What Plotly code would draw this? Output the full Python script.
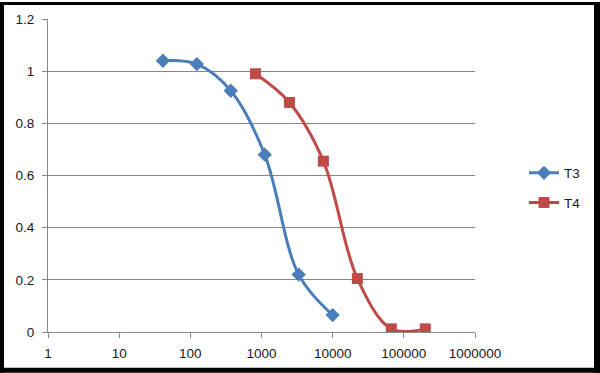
import plotly.graph_objects as go

# Data
t3_x = [41.15, 123.5, 370.4, 1111, 3333, 10000]
t3_y = [1.04, 1.027, 0.925, 0.68, 0.22, 0.065]
t4_x = [823, 2469, 7407, 22222, 66667, 200000]
t4_y = [0.99, 0.88, 0.655, 0.205, 0.012, 0.012]
x_ticks = [1, 10, 100, 1000, 10000, 100000, 1000000]
x_tick_labels = ["1", "10", "100", "1000", "10000", "100000", "1000000"]
y_ticks = [0, 0.2, 0.4, 0.6, 0.8, 1, 1.2]
y_tick_labels = ["0", "0.2", "0.4", "0.6", "0.8", "1", "1.2"]

BLUE = "#4A7EBB"
RED = "#BE4B48"
GRID = "#878787"
FONT = "Liberation Sans"

W, H = 600, 373
L, R, T, B = 48, 125, 17, 41
PW, PH = W - L - R, H - T - B

fig = go.Figure()
fig.add_trace(go.Scatter(
    x=t3_x, y=t3_y, name="T3", mode="lines+markers",
    line=dict(color=BLUE, width=3, shape="spline", smoothing=1.0),
    marker=dict(symbol="diamond", size=11, color=BLUE),
    legend="legend",
))
fig.add_trace(go.Scatter(
    x=t4_x, y=t4_y, name="T4", mode="lines+markers",
    line=dict(color=RED, width=3, shape="spline", smoothing=1.0),
    marker=dict(symbol="square", size=11, color=RED),
    legend="legend2",
))

def px2x(p):
    return (p - L) / PW

def py2y(p):
    return (H - B - p) / PH

shapes = []
for (x0, x1, y0, y1) in [(0, 4, 0, H), (594, W, 0, H), (0, W, 0, 3), (0, W, 368, H)]:
    shapes.append(dict(type="rect", xref="paper", yref="paper",
                       x0=px2x(x0), x1=px2x(x1), y0=py2y(y1), y1=py2y(y0),
                       fillcolor="black", line=dict(width=0), layer="above"))

fig.update_layout(
    width=W, height=H,
    margin=dict(l=L, r=R, t=T, b=B),
    paper_bgcolor="white", plot_bgcolor="white",
    font=dict(family=FONT, size=13.5, color="#1a1a1a"),
    showlegend=True,
    legend=dict(x=px2x(524), y=py2y(172), xanchor="left", yanchor="middle",
                bgcolor="rgba(0,0,0,0)", font=dict(size=13.5)),
    legend2=dict(x=px2x(524), y=py2y(202), xanchor="left", yanchor="middle",
                 bgcolor="rgba(0,0,0,0)", font=dict(size=13.5)),
    xaxis=dict(type="log", range=[0, 6], tickvals=x_ticks, ticktext=x_tick_labels,
               showgrid=False, zeroline=False, showline=True, linecolor=GRID, linewidth=1,
               ticks="outside", ticklen=5, tickcolor=GRID, tickwidth=1,
               ticklabelstandoff=4),
    yaxis=dict(range=[0, 1.2], tickvals=y_ticks, ticktext=y_tick_labels,
               showgrid=True, gridcolor=GRID, gridwidth=1, zeroline=False,
               showline=True, linecolor=GRID, linewidth=1,
               ticks="outside", ticklen=5, tickcolor=GRID, tickwidth=1,
               ticklabelstandoff=5),
    shapes=shapes,
)

fig.write_html("out.html", config={"displayModeBar": False},
               post_script="document.body.style.margin='0';document.body.style.overflow='hidden';")
